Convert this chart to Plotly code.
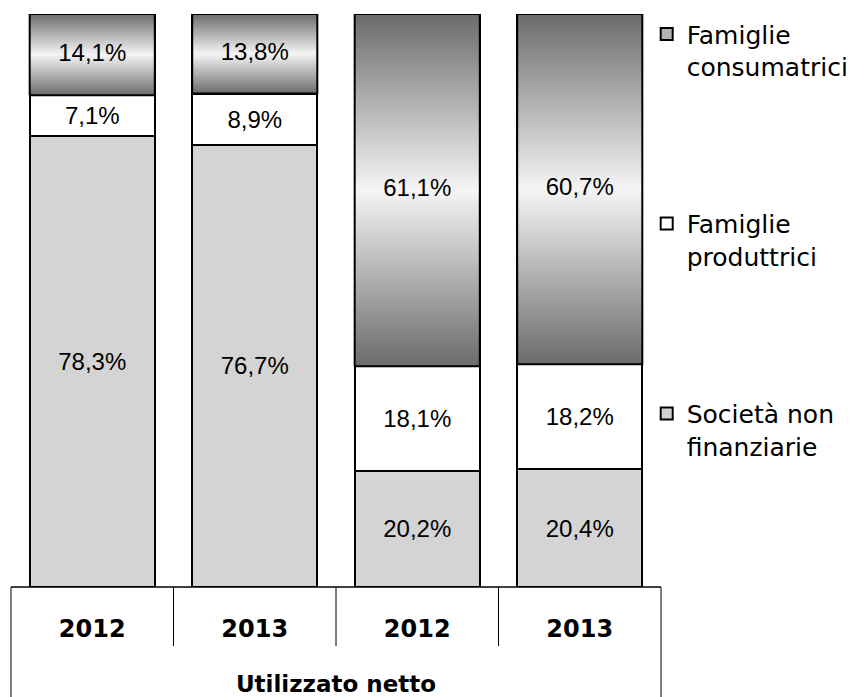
import plotly.graph_objects as go

# ---- data ----
categories = ["2012", "2013", "2012", "2013"]
group_label = "Utilizzato netto"
series_names = ["Società non<br>finanziarie", "Famiglie<br>produttrici", "Famiglie<br>consumatrici"]
societa = [78.3, 76.7, 20.2, 20.4]
produttrici = [7.1, 8.9, 18.1, 18.2]
consumatrici = [14.1, 13.8, 61.1, 60.7]

# ---- styling ----
BAR_W = 0.77
LINE_W = 2
LABEL_FONT = dict(family="Liberation Sans, Arial, sans-serif", size=24, color="black")
LEG_FONT = dict(family="DejaVu Sans, sans-serif", size=25, color="black")
TICK_FONT = dict(family="DejaVu Sans, sans-serif", size=24, color="black", weight="bold")
TITLE_FONT = dict(family="DejaVu Sans, sans-serif", size=23, color="black", weight="bold")

def fmt(v):
    return f"{v:.1f}%".replace(".", ",")

x = list(range(len(categories)))
totals = [a + b + c for a, b, c in zip(societa, produttrici, consumatrici)]

fig = go.Figure()

fig.add_trace(go.Bar(
    x=x, y=societa, name=series_names[0], width=BAR_W,
    marker=dict(color="#d4d4d4", line=dict(color="black", width=LINE_W)),
    text=[fmt(v) for v in societa], textposition="inside", insidetextanchor="middle",
    textangle=0, constraintext="none", textfont=LABEL_FONT, legend="legend3",
))
fig.add_trace(go.Bar(
    x=x, y=produttrici, name=series_names[1], width=BAR_W,
    marker=dict(color="white", line=dict(color="black", width=LINE_W)),
    text=[fmt(v) for v in produttrici], textposition="inside", insidetextanchor="middle",
    textangle=0, constraintext="none", textfont=LABEL_FONT, legend="legend2",
))
fig.add_trace(go.Bar(
    x=x, y=consumatrici, name=series_names[2], width=BAR_W,
    marker=dict(color="#b4b4b4", line=dict(color="black", width=LINE_W)),
    legend="legend", hoverinfo="skip",
))

# gradient overlay for the top segment (computed from normalized data values)
grad_scale = [[0, "#6b6b6b"], [0.5, "#f5f5f5"], [1, "#6b6b6b"]]
lab_x, lab_y = [], []
for i, (s, p, c, t) in enumerate(zip(societa, produttrici, consumatrici, totals)):
    base = (s + p) / t * 100
    top = (s + p + c) / t * 100
    x0, x1 = i - BAR_W / 2, i + BAR_W / 2
    fig.add_trace(go.Scatter(
        x=[x0, x1, x1, x0, x0], y=[base, base, top, top, base],
        mode="lines", fill="toself",
        fillgradient=dict(type="vertical", colorscale=grad_scale),
        line=dict(color="black", width=LINE_W),
        showlegend=False, hoverinfo="skip",
    ))
    lab_x.append(i)
    lab_y.append((base + top) / 2)

fig.add_trace(go.Scatter(
    x=lab_x, y=lab_y, mode="text", text=[fmt(v) for v in consumatrici],
    textfont=LABEL_FONT, textposition="middle center", showlegend=False,
    hoverinfo="skip",
))

# table-like category axis lines
shapes = []
line_style = dict(color="black", width=1)
for k in range(1, len(categories)):
    xp = k / len(categories)
    shapes.append(dict(type="line", xref="paper", yref="paper", x0=xp, x1=xp,
                       y0=0, y1=-0.103, line=line_style))
for xp in (0, 1):
    shapes.append(dict(type="line", xref="paper", yref="paper", x0=xp, x1=xp,
                       y0=0, y1=-0.2, line=line_style))
shapes.append(dict(type="line", xref="paper", yref="paper", x0=0, x1=1,
                   y0=0, y1=0, line=dict(color="black", width=1.5)))

leg_common = dict(x=0.978, xanchor="left", yanchor="top", font=LEG_FONT,
                  bgcolor="rgba(0,0,0,0)", valign="top", itemwidth=30)

fig.update_layout(
    width=850, height=697,
    margin=dict(l=11, r=189, t=14, b=110, autoexpand=False),
    barmode="stack", barnorm="percent",
    plot_bgcolor="white", paper_bgcolor="white",
    showlegend=True,
    legend=dict(y=1.005, **leg_common),
    legend2=dict(y=0.674, **leg_common),
    legend3=dict(y=0.3425, **leg_common),
    shapes=shapes,
    xaxis=dict(
        range=[-0.5, len(categories) - 0.5],
        tickvals=x, ticktext=categories, tickfont=TICK_FONT,
        ticks="", showgrid=False, zeroline=False, showline=False,
        ticklabelstandoff=25, automargin=False,
        title=dict(text=group_label, font=TITLE_FONT, standoff=33),
    ),
    yaxis=dict(range=[0, 100], visible=False, automargin=False),
)

fig.write_html(
    "out.html",
    config={"displayModeBar": False},
    post_script="document.body.style.margin='0';document.body.style.overflow='hidden';",
)
